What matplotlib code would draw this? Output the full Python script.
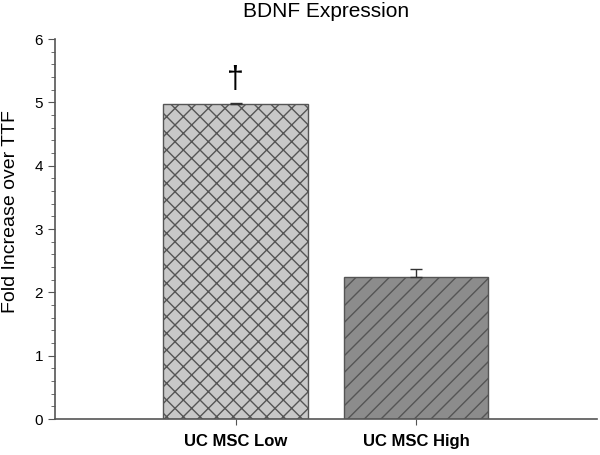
import matplotlib
matplotlib.use('Agg')
import matplotlib.pyplot as plt
import numpy as np
from matplotlib.ticker import MultipleLocator

plt.rcParams['font.family'] = ['Liberation Sans', 'DejaVu Sans']
plt.rcParams['hatch.linewidth'] = 1.0
plt.rcParams['hatch.color'] = '#333333'

# Data
# ----------------------------------------------------------------------------

groups = ['UC MSC Low', 'UC MSC High']
fold = [4.97, 2.25]
err = [0.02, 0.12]
colors = ['#c8c8c8', '#8c8c8c']
hatches = ['xx', '//']
marks = ['\u2020', '']

# Plot
# ----------------------------------------------------------------------------

fig = plt.figure(figsize=(6, 4.55), dpi=100)
ax = fig.add_axes([0.0917, 0.079, 0.903, 0.835])

xpos = np.arange(len(groups))
for x, y, e, c, h in zip(xpos, fold, err, colors, hatches):
    ax.bar(x, y, width=0.8, color=c, edgecolor='#555555', linewidth=1.0,
           hatch=h, zorder=2)
    ax.errorbar(x, y, yerr=[[0], [e]], fmt='none', ecolor='#333333',
                elinewidth=1.0, capsize=4, capthick=1.0, zorder=3)

for x, y, e, m in zip(xpos, fold, err, marks):
    if m:
        ax.text(x, y + e + 0.12, m, ha='center', va='bottom', fontsize=22)

ax.set_xlim(-1, 2)
ax.set_ylim(0, 6)
ax.set_xticks(xpos)
ax.set_xticklabels(groups, fontweight='bold', fontsize=12)
ax.yaxis.set_major_locator(MultipleLocator(1))
ax.yaxis.set_minor_locator(MultipleLocator(0.2))
ax.tick_params(axis='y', which='major', length=5, labelsize=11, color='#555555')
ax.tick_params(axis='y', which='minor', length=3, color='#555555')
ax.tick_params(axis='x', length=4, pad=7, color='#555555')

for side in ['top', 'right']:
    ax.spines[side].set_visible(False)
for side in ['left', 'bottom']:
    ax.spines[side].set_color('#555555')
    ax.spines[side].set_linewidth(1.2)

ax.set_ylabel('Fold Increase over TTF', fontsize=14, va='center')
ax.yaxis.set_label_coords(-0.083, 0.547)
ax.set_title('BDNF Expression', fontsize=15, pad=16)

fig.savefig('out.png', dpi=100)
